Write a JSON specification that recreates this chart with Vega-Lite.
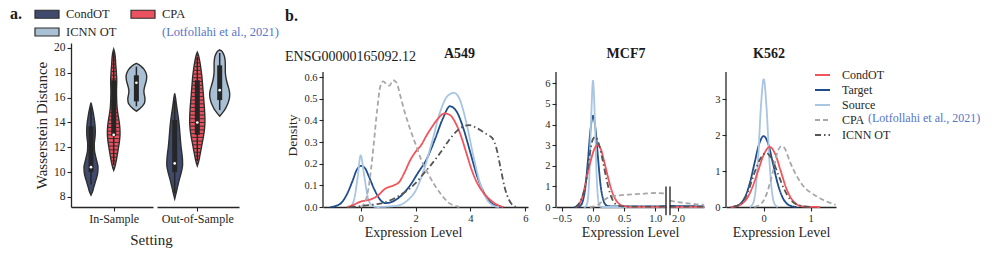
{
"$schema": "https://vega.github.io/schema/vega-lite/v6.json",
"padding": {"left": 10, "top": 5, "right": 5, "bottom": 5},
"config": {
 "view": {"stroke": null},
 "font": "Liberation Serif",
 "style": {"guide-label": {"font": "Liberation Serif"}, "guide-title": {"font": "Liberation Serif"}, "group-title": {"font": "Liberation Serif"}, "group-subtitle": {"font": "Liberation Serif"}},
 "axis": {"labelFont": "Liberation Serif", "titleFont": "Liberation Serif", "labelColor": "#262626", "titleColor": "#262626", "domainColor": "#262626", "tickColor": "#262626", "domainWidth": 1.3, "tickWidth": 1.1, "tickSize": 4, "labelFontSize": 10.5, "titleFontSize": 14, "titleFontWeight": "normal", "grid": false, "labelPadding": 2, "labelOverlap": false, "labelBound": false, "labelFlush": false, "tickCount": 50},
 "legend": {"labelFont": "Liberation Serif", "labelColor": "#262626", "padding": 0},
 "title": {"font": "Liberation Serif", "color": "#1a1a1a", "fontSize": 14, "subtitleFont": "Liberation Serif", "subtitleColor": "#1a1a1a"}
},
"datasets": {
 "violin": [
  {"setting":"In-Sample","method":"CondOT","value":15.6,"halfwidth":0},{"setting":"In-Sample","method":"CondOT","value":15.2,"halfwidth":1.2},{"setting":"In-Sample","method":"CondOT","value":14.8,"halfwidth":2.2},{"setting":"In-Sample","method":"CondOT","value":14.3,"halfwidth":3.2},{"setting":"In-Sample","method":"CondOT","value":13.8,"halfwidth":4},{"setting":"In-Sample","method":"CondOT","value":13.3,"halfwidth":4.3},{"setting":"In-Sample","method":"CondOT","value":12.8,"halfwidth":4},{"setting":"In-Sample","method":"CondOT","value":12.3,"halfwidth":3.3},{"setting":"In-Sample","method":"CondOT","value":11.8,"halfwidth":3.4},{"setting":"In-Sample","method":"CondOT","value":11.3,"halfwidth":4.5},{"setting":"In-Sample","method":"CondOT","value":10.8,"halfwidth":6},{"setting":"In-Sample","method":"CondOT","value":10.4,"halfwidth":7},{"setting":"In-Sample","method":"CondOT","value":10.0,"halfwidth":6.8},{"setting":"In-Sample","method":"CondOT","value":9.6,"halfwidth":5.8},{"setting":"In-Sample","method":"CondOT","value":9.2,"halfwidth":4.3},{"setting":"In-Sample","method":"CondOT","value":8.8,"halfwidth":2.8},{"setting":"In-Sample","method":"CondOT","value":8.4,"halfwidth":1.4},{"setting":"In-Sample","method":"CondOT","value":8.15,"halfwidth":0},
  {"setting":"In-Sample","method":"CPA","value":19.9,"halfwidth":0},{"setting":"In-Sample","method":"CPA","value":19.6,"halfwidth":1.0},{"setting":"In-Sample","method":"CPA","value":19.3,"halfwidth":1.5},{"setting":"In-Sample","method":"CPA","value":19.0,"halfwidth":1.8},{"setting":"In-Sample","method":"CPA","value":18.7,"halfwidth":2.0},{"setting":"In-Sample","method":"CPA","value":18.4,"halfwidth":2.3},{"setting":"In-Sample","method":"CPA","value":18.1,"halfwidth":2.6},{"setting":"In-Sample","method":"CPA","value":17.8,"halfwidth":2.8},{"setting":"In-Sample","method":"CPA","value":17.5,"halfwidth":3.0},{"setting":"In-Sample","method":"CPA","value":17.2,"halfwidth":3.0},{"setting":"In-Sample","method":"CPA","value":16.9,"halfwidth":2.9},{"setting":"In-Sample","method":"CPA","value":16.6,"halfwidth":2.8},{"setting":"In-Sample","method":"CPA","value":16.3,"halfwidth":2.8},{"setting":"In-Sample","method":"CPA","value":16.0,"halfwidth":2.9},{"setting":"In-Sample","method":"CPA","value":15.7,"halfwidth":3.0},{"setting":"In-Sample","method":"CPA","value":15.4,"halfwidth":3.2},{"setting":"In-Sample","method":"CPA","value":15.1,"halfwidth":3.5},{"setting":"In-Sample","method":"CPA","value":14.8,"halfwidth":4.0},{"setting":"In-Sample","method":"CPA","value":14.5,"halfwidth":4.6},{"setting":"In-Sample","method":"CPA","value":14.2,"halfwidth":5.2},{"setting":"In-Sample","method":"CPA","value":13.9,"halfwidth":5.7},{"setting":"In-Sample","method":"CPA","value":13.6,"halfwidth":6.1},{"setting":"In-Sample","method":"CPA","value":13.3,"halfwidth":6.3},{"setting":"In-Sample","method":"CPA","value":13.0,"halfwidth":6.3},{"setting":"In-Sample","method":"CPA","value":12.7,"halfwidth":6.0},{"setting":"In-Sample","method":"CPA","value":12.4,"halfwidth":5.6},{"setting":"In-Sample","method":"CPA","value":12.1,"halfwidth":5.0},{"setting":"In-Sample","method":"CPA","value":11.8,"halfwidth":4.4},{"setting":"In-Sample","method":"CPA","value":11.5,"halfwidth":3.8},{"setting":"In-Sample","method":"CPA","value":11.2,"halfwidth":3.2},{"setting":"In-Sample","method":"CPA","value":10.9,"halfwidth":2.5},{"setting":"In-Sample","method":"CPA","value":10.6,"halfwidth":1.7},{"setting":"In-Sample","method":"CPA","value":10.35,"halfwidth":0.9},{"setting":"In-Sample","method":"CPA","value":10.15,"halfwidth":0},
  {"setting":"In-Sample","method":"ICNN OT","value":18.75,"halfwidth":0},{"setting":"In-Sample","method":"ICNN OT","value":18.65,"halfwidth":2.5},{"setting":"In-Sample","method":"ICNN OT","value":18.5,"halfwidth":5},{"setting":"In-Sample","method":"ICNN OT","value":18.3,"halfwidth":7.5},{"setting":"In-Sample","method":"ICNN OT","value":18.0,"halfwidth":9.5},{"setting":"In-Sample","method":"ICNN OT","value":17.7,"halfwidth":10.3},{"setting":"In-Sample","method":"ICNN OT","value":17.4,"halfwidth":10.0},{"setting":"In-Sample","method":"ICNN OT","value":17.1,"halfwidth":9.0},{"setting":"In-Sample","method":"ICNN OT","value":16.8,"halfwidth":8.0},{"setting":"In-Sample","method":"ICNN OT","value":16.5,"halfwidth":7.5},{"setting":"In-Sample","method":"ICNN OT","value":16.2,"halfwidth":8.0},{"setting":"In-Sample","method":"ICNN OT","value":15.9,"halfwidth":8.6},{"setting":"In-Sample","method":"ICNN OT","value":15.6,"halfwidth":8.2},{"setting":"In-Sample","method":"ICNN OT","value":15.4,"halfwidth":6.8},{"setting":"In-Sample","method":"ICNN OT","value":15.2,"halfwidth":4.6},{"setting":"In-Sample","method":"ICNN OT","value":15.05,"halfwidth":2.5},{"setting":"In-Sample","method":"ICNN OT","value":14.9,"halfwidth":0},
  {"setting":"Out-of-Sample","method":"CondOT","value":16.35,"halfwidth":0},{"setting":"Out-of-Sample","method":"CondOT","value":16.0,"halfwidth":0.8},{"setting":"Out-of-Sample","method":"CondOT","value":15.5,"halfwidth":1.6},{"setting":"Out-of-Sample","method":"CondOT","value":15.0,"halfwidth":2.5},{"setting":"Out-of-Sample","method":"CondOT","value":14.5,"halfwidth":3.4},{"setting":"Out-of-Sample","method":"CondOT","value":14.0,"halfwidth":4.2},{"setting":"Out-of-Sample","method":"CondOT","value":13.5,"halfwidth":4.8},{"setting":"Out-of-Sample","method":"CondOT","value":13.0,"halfwidth":5.3},{"setting":"Out-of-Sample","method":"CondOT","value":12.5,"halfwidth":5.8},{"setting":"Out-of-Sample","method":"CondOT","value":12.0,"halfwidth":6.4},{"setting":"Out-of-Sample","method":"CondOT","value":11.5,"halfwidth":7.2},{"setting":"Out-of-Sample","method":"CondOT","value":11.0,"halfwidth":7.8},{"setting":"Out-of-Sample","method":"CondOT","value":10.6,"halfwidth":7.9},{"setting":"Out-of-Sample","method":"CondOT","value":10.2,"halfwidth":7.2},{"setting":"Out-of-Sample","method":"CondOT","value":9.8,"halfwidth":6.0},{"setting":"Out-of-Sample","method":"CondOT","value":9.4,"halfwidth":4.6},{"setting":"Out-of-Sample","method":"CondOT","value":9.0,"halfwidth":3.4},{"setting":"Out-of-Sample","method":"CondOT","value":8.6,"halfwidth":2.2},{"setting":"Out-of-Sample","method":"CondOT","value":8.2,"halfwidth":1.1},{"setting":"Out-of-Sample","method":"CondOT","value":7.85,"halfwidth":0},
  {"setting":"Out-of-Sample","method":"CPA","value":19.65,"halfwidth":0},{"setting":"Out-of-Sample","method":"CPA","value":19.4,"halfwidth":1.2},{"setting":"Out-of-Sample","method":"CPA","value":19.1,"halfwidth":2.0},{"setting":"Out-of-Sample","method":"CPA","value":18.8,"halfwidth":2.7},{"setting":"Out-of-Sample","method":"CPA","value":18.5,"halfwidth":3.3},{"setting":"Out-of-Sample","method":"CPA","value":18.2,"halfwidth":3.8},{"setting":"Out-of-Sample","method":"CPA","value":17.9,"halfwidth":4.3},{"setting":"Out-of-Sample","method":"CPA","value":17.6,"halfwidth":4.7},{"setting":"Out-of-Sample","method":"CPA","value":17.3,"halfwidth":5.0},{"setting":"Out-of-Sample","method":"CPA","value":17.0,"halfwidth":5.3},{"setting":"Out-of-Sample","method":"CPA","value":16.7,"halfwidth":5.6},{"setting":"Out-of-Sample","method":"CPA","value":16.4,"halfwidth":5.9},{"setting":"Out-of-Sample","method":"CPA","value":16.1,"halfwidth":6.2},{"setting":"Out-of-Sample","method":"CPA","value":15.8,"halfwidth":6.5},{"setting":"Out-of-Sample","method":"CPA","value":15.5,"halfwidth":6.8},{"setting":"Out-of-Sample","method":"CPA","value":15.2,"halfwidth":7.1},{"setting":"Out-of-Sample","method":"CPA","value":14.9,"halfwidth":7.3},{"setting":"Out-of-Sample","method":"CPA","value":14.6,"halfwidth":7.5},{"setting":"Out-of-Sample","method":"CPA","value":14.3,"halfwidth":7.6},{"setting":"Out-of-Sample","method":"CPA","value":14.0,"halfwidth":7.6},{"setting":"Out-of-Sample","method":"CPA","value":13.7,"halfwidth":7.4},{"setting":"Out-of-Sample","method":"CPA","value":13.4,"halfwidth":7.1},{"setting":"Out-of-Sample","method":"CPA","value":13.1,"halfwidth":6.6},{"setting":"Out-of-Sample","method":"CPA","value":12.8,"halfwidth":6.0},{"setting":"Out-of-Sample","method":"CPA","value":12.5,"halfwidth":5.3},{"setting":"Out-of-Sample","method":"CPA","value":12.2,"halfwidth":4.6},{"setting":"Out-of-Sample","method":"CPA","value":11.9,"halfwidth":3.9},{"setting":"Out-of-Sample","method":"CPA","value":11.6,"halfwidth":3.2},{"setting":"Out-of-Sample","method":"CPA","value":11.3,"halfwidth":2.5},{"setting":"Out-of-Sample","method":"CPA","value":11.0,"halfwidth":1.8},{"setting":"Out-of-Sample","method":"CPA","value":10.75,"halfwidth":1.0},{"setting":"Out-of-Sample","method":"CPA","value":10.5,"halfwidth":0},
  {"setting":"Out-of-Sample","method":"ICNN OT","value":19.85,"halfwidth":0},{"setting":"Out-of-Sample","method":"ICNN OT","value":19.75,"halfwidth":2.0},{"setting":"Out-of-Sample","method":"ICNN OT","value":19.55,"halfwidth":3.6},{"setting":"Out-of-Sample","method":"ICNN OT","value":19.3,"halfwidth":4.8},{"setting":"Out-of-Sample","method":"ICNN OT","value":19.0,"halfwidth":5.4},{"setting":"Out-of-Sample","method":"ICNN OT","value":18.7,"halfwidth":5.6},{"setting":"Out-of-Sample","method":"ICNN OT","value":18.4,"halfwidth":5.6},{"setting":"Out-of-Sample","method":"ICNN OT","value":18.1,"halfwidth":5.6},{"setting":"Out-of-Sample","method":"ICNN OT","value":17.8,"halfwidth":5.9},{"setting":"Out-of-Sample","method":"ICNN OT","value":17.5,"halfwidth":6.5},{"setting":"Out-of-Sample","method":"ICNN OT","value":17.2,"halfwidth":7.4},{"setting":"Out-of-Sample","method":"ICNN OT","value":16.9,"halfwidth":8.5},{"setting":"Out-of-Sample","method":"ICNN OT","value":16.6,"halfwidth":9.5},{"setting":"Out-of-Sample","method":"ICNN OT","value":16.3,"halfwidth":10.0},{"setting":"Out-of-Sample","method":"ICNN OT","value":16.0,"halfwidth":9.8},{"setting":"Out-of-Sample","method":"ICNN OT","value":15.7,"halfwidth":8.9},{"setting":"Out-of-Sample","method":"ICNN OT","value":15.4,"halfwidth":7.5},{"setting":"Out-of-Sample","method":"ICNN OT","value":15.1,"halfwidth":5.6},{"setting":"Out-of-Sample","method":"ICNN OT","value":14.85,"halfwidth":3.5},{"setting":"Out-of-Sample","method":"ICNN OT","value":14.65,"halfwidth":1.5},{"setting":"Out-of-Sample","method":"ICNN OT","value":14.5,"halfwidth":0}
 ],
 "box": [
  {"setting":"In-Sample","method":"CondOT","q1":10.0,"q3":13.7,"med":10.4,"wlo":9.0,"whi":15.2},
  {"setting":"In-Sample","method":"CPA","q1":12.9,"q3":17.4,"med":13.0,"wlo":10.6,"whi":19.6},
  {"setting":"In-Sample","method":"ICNN OT","q1":15.7,"q3":17.8,"med":17.2,"wlo":15.3,"whi":18.5},
  {"setting":"Out-of-Sample","method":"CondOT","q1":10.0,"q3":14.2,"med":10.7,"wlo":8.3,"whi":15.8},
  {"setting":"Out-of-Sample","method":"CPA","q1":13.0,"q3":17.4,"med":14.0,"wlo":10.9,"whi":19.3},
  {"setting":"Out-of-Sample","method":"ICNN OT","q1":15.8,"q3":18.6,"med":16.6,"wlo":15.0,"whi":19.6}
 ],
 "a549": [
  {"series":"Target","x":-1.1,"y":0},{"series":"Target","x":-0.9,"y":0.005},{"series":"Target","x":-0.7,"y":0.02},{"series":"Target","x":-0.5,"y":0.06},{"series":"Target","x":-0.3,"y":0.12},{"series":"Target","x":-0.15,"y":0.17},{"series":"Target","x":0,"y":0.19},{"series":"Target","x":0.15,"y":0.18},{"series":"Target","x":0.3,"y":0.14},{"series":"Target","x":0.5,"y":0.08},{"series":"Target","x":0.7,"y":0.035},{"series":"Target","x":0.9,"y":0.018},{"series":"Target","x":1.1,"y":0.022},{"series":"Target","x":1.3,"y":0.035},{"series":"Target","x":1.5,"y":0.055},{"series":"Target","x":1.8,"y":0.1},{"series":"Target","x":2.1,"y":0.16},{"series":"Target","x":2.4,"y":0.22},{"series":"Target","x":2.7,"y":0.31},{"series":"Target","x":3.0,"y":0.41},{"series":"Target","x":3.25,"y":0.465},{"series":"Target","x":3.5,"y":0.44},{"series":"Target","x":3.75,"y":0.36},{"series":"Target","x":4.0,"y":0.25},{"series":"Target","x":4.25,"y":0.14},{"series":"Target","x":4.5,"y":0.065},{"series":"Target","x":4.75,"y":0.02},{"series":"Target","x":5.0,"y":0.004},{"series":"Target","x":5.2,"y":0},
  {"series":"Source","x":-0.4,"y":0},{"series":"Source","x":-0.25,"y":0.03},{"series":"Source","x":-0.12,"y":0.13},{"series":"Source","x":0,"y":0.238},{"series":"Source","x":0.12,"y":0.15},{"series":"Source","x":0.25,"y":0.05},{"series":"Source","x":0.4,"y":0.008},{"series":"Source","x":0.6,"y":0},{"series":"Source","x":1.0,"y":0.002},{"series":"Source","x":1.4,"y":0.008},{"series":"Source","x":1.7,"y":0.03},{"series":"Source","x":2.0,"y":0.075},{"series":"Source","x":2.3,"y":0.17},{"series":"Source","x":2.6,"y":0.3},{"series":"Source","x":2.9,"y":0.44},{"series":"Source","x":3.15,"y":0.51},{"series":"Source","x":3.4,"y":0.527},{"series":"Source","x":3.6,"y":0.5},{"series":"Source","x":3.85,"y":0.39},{"series":"Source","x":4.1,"y":0.24},{"series":"Source","x":4.35,"y":0.11},{"series":"Source","x":4.6,"y":0.035},{"series":"Source","x":4.85,"y":0.006},{"series":"Source","x":5.05,"y":0},
  {"series":"CondOT","x":-0.5,"y":0},{"series":"CondOT","x":-0.3,"y":0.008},{"series":"CondOT","x":0,"y":0.025},{"series":"CondOT","x":0.3,"y":0.033},{"series":"CondOT","x":0.6,"y":0.05},{"series":"CondOT","x":0.9,"y":0.085},{"series":"CondOT","x":1.2,"y":0.1},{"series":"CondOT","x":1.4,"y":0.115},{"series":"CondOT","x":1.6,"y":0.16},{"series":"CondOT","x":1.8,"y":0.215},{"series":"CondOT","x":2.0,"y":0.255},{"series":"CondOT","x":2.2,"y":0.285},{"series":"CondOT","x":2.4,"y":0.33},{"series":"CondOT","x":2.6,"y":0.37},{"series":"CondOT","x":2.8,"y":0.405},{"series":"CondOT","x":3.05,"y":0.432},{"series":"CondOT","x":3.25,"y":0.425},{"series":"CondOT","x":3.45,"y":0.39},{"series":"CondOT","x":3.65,"y":0.33},{"series":"CondOT","x":3.85,"y":0.25},{"series":"CondOT","x":4.05,"y":0.17},{"series":"CondOT","x":4.25,"y":0.11},{"series":"CondOT","x":4.45,"y":0.07},{"series":"CondOT","x":4.7,"y":0.035},{"series":"CondOT","x":4.95,"y":0.012},{"series":"CondOT","x":5.2,"y":0},
  {"series":"CPA","x":0,"y":0},{"series":"CPA","x":0.15,"y":0.02},{"series":"CPA","x":0.3,"y":0.1},{"series":"CPA","x":0.45,"y":0.26},{"series":"CPA","x":0.6,"y":0.45},{"series":"CPA","x":0.72,"y":0.56},{"series":"CPA","x":0.82,"y":0.58},{"series":"CPA","x":0.95,"y":0.565},{"series":"CPA","x":1.05,"y":0.56},{"series":"CPA","x":1.18,"y":0.585},{"series":"CPA","x":1.3,"y":0.575},{"series":"CPA","x":1.45,"y":0.51},{"series":"CPA","x":1.6,"y":0.44},{"series":"CPA","x":1.8,"y":0.36},{"series":"CPA","x":2.0,"y":0.29},{"series":"CPA","x":2.2,"y":0.22},{"series":"CPA","x":2.45,"y":0.155},{"series":"CPA","x":2.7,"y":0.1},{"series":"CPA","x":2.95,"y":0.055},{"series":"CPA","x":3.2,"y":0.02},{"series":"CPA","x":3.45,"y":0.005},{"series":"CPA","x":3.6,"y":0},
  {"series":"ICNN OT","x":-0.4,"y":0},{"series":"ICNN OT","x":0,"y":0.004},{"series":"ICNN OT","x":0.5,"y":0.012},{"series":"ICNN OT","x":0.9,"y":0.022},{"series":"ICNN OT","x":1.3,"y":0.045},{"series":"ICNN OT","x":1.6,"y":0.068},{"series":"ICNN OT","x":2.0,"y":0.11},{"series":"ICNN OT","x":2.3,"y":0.155},{"series":"ICNN OT","x":2.6,"y":0.2},{"series":"ICNN OT","x":2.9,"y":0.25},{"series":"ICNN OT","x":3.2,"y":0.305},{"series":"ICNN OT","x":3.5,"y":0.35},{"series":"ICNN OT","x":3.75,"y":0.372},{"series":"ICNN OT","x":3.95,"y":0.378},{"series":"ICNN OT","x":4.15,"y":0.37},{"series":"ICNN OT","x":4.4,"y":0.352},{"series":"ICNN OT","x":4.6,"y":0.335},{"series":"ICNN OT","x":4.8,"y":0.318},{"series":"ICNN OT","x":4.95,"y":0.27},{"series":"ICNN OT","x":5.1,"y":0.18},{"series":"ICNN OT","x":5.25,"y":0.09},{"series":"ICNN OT","x":5.4,"y":0.035},{"series":"ICNN OT","x":5.55,"y":0.008},{"series":"ICNN OT","x":5.7,"y":0}
 ],
 "mcf7": [
  {"series":"Target","x":-0.3,"y":0},{"series":"Target","x":-0.25,"y":0.01},{"series":"Target","x":-0.2,"y":0.075},{"series":"Target","x":-0.16,"y":0.33},{"series":"Target","x":-0.12,"y":1.02},{"series":"Target","x":-0.08,"y":2.31},{"series":"Target","x":-0.04,"y":3.76},{"series":"Target","x":0,"y":4.43},{"series":"Target","x":0.04,"y":3.8},{"series":"Target","x":0.08,"y":2.4},{"series":"Target","x":0.12,"y":1.1},{"series":"Target","x":0.16,"y":0.4},{"series":"Target","x":0.2,"y":0.12},{"series":"Target","x":0.25,"y":0.04},{"series":"Target","x":0.35,"y":0.03},{"series":"Target","x":0.6,"y":0.03},{"series":"Target","x":0.9,"y":0.03},{"series":"Target","x":1.17,"y":0.04},{"series":"Target","x":1.87,"y":0.05},{"series":"Target","x":2.42,"y":0.03},
  {"series":"Source","x":-0.15,"y":0},{"series":"Source","x":-0.12,"y":0.017},{"series":"Source","x":-0.09,"y":0.22},{"series":"Source","x":-0.06,"y":1.41},{"series":"Source","x":-0.03,"y":4.25},{"series":"Source","x":0,"y":6.13},{"series":"Source","x":0.03,"y":4.25},{"series":"Source","x":0.06,"y":1.41},{"series":"Source","x":0.09,"y":0.22},{"series":"Source","x":0.12,"y":0.017},{"series":"Source","x":0.15,"y":0},{"series":"Source","x":0.6,"y":0},{"series":"Source","x":1.17,"y":0},{"series":"Source","x":1.87,"y":0},{"series":"Source","x":2.42,"y":0},
  {"series":"CondOT","x":-0.28,"y":0},{"series":"CondOT","x":-0.22,"y":0.15},{"series":"CondOT","x":-0.16,"y":0.6},{"series":"CondOT","x":-0.1,"y":1.45},{"series":"CondOT","x":-0.04,"y":2.2},{"series":"CondOT","x":0.02,"y":2.8},{"series":"CondOT","x":0.07,"y":3.0},{"series":"CondOT","x":0.12,"y":2.85},{"series":"CondOT","x":0.18,"y":2.2},{"series":"CondOT","x":0.24,"y":1.45},{"series":"CondOT","x":0.3,"y":0.8},{"series":"CondOT","x":0.36,"y":0.38},{"series":"CondOT","x":0.42,"y":0.15},{"series":"CondOT","x":0.5,"y":0.04},{"series":"CondOT","x":0.6,"y":0.01},{"series":"CondOT","x":1.17,"y":0.01},{"series":"CondOT","x":1.87,"y":0.01},{"series":"CondOT","x":2.42,"y":0.01},
  {"series":"CPA","x":-0.05,"y":0},{"series":"CPA","x":0.05,"y":0.05},{"series":"CPA","x":0.1,"y":0.15},{"series":"CPA","x":0.16,"y":0.3},{"series":"CPA","x":0.22,"y":0.42},{"series":"CPA","x":0.32,"y":0.52},{"series":"CPA","x":0.5,"y":0.59},{"series":"CPA","x":0.8,"y":0.64},{"series":"CPA","x":1.0,"y":0.68},{"series":"CPA","x":1.17,"y":0.66},{"series":"CPA","x":1.87,"y":0.31},{"series":"CPA","x":2.0,"y":0.24},{"series":"CPA","x":2.15,"y":0.18},{"series":"CPA","x":2.3,"y":0.13},{"series":"CPA","x":2.42,"y":0.1},
  {"series":"ICNN OT","x":-0.28,"y":0},{"series":"ICNN OT","x":-0.2,"y":0.3},{"series":"ICNN OT","x":-0.12,"y":1.1},{"series":"ICNN OT","x":-0.06,"y":2.4},{"series":"ICNN OT","x":0,"y":3.3},{"series":"ICNN OT","x":0.04,"y":3.4},{"series":"ICNN OT","x":0.1,"y":3.0},{"series":"ICNN OT","x":0.16,"y":2.2},{"series":"ICNN OT","x":0.22,"y":1.3},{"series":"ICNN OT","x":0.28,"y":0.6},{"series":"ICNN OT","x":0.34,"y":0.22},{"series":"ICNN OT","x":0.42,"y":0.06},{"series":"ICNN OT","x":0.55,"y":0.02},{"series":"ICNN OT","x":1.17,"y":0.02},{"series":"ICNN OT","x":1.87,"y":0.02},{"series":"ICNN OT","x":2.42,"y":0.02}
 ],
 "k562": [
  {"series":"Target","x":-0.7,"y":0},{"series":"Target","x":-0.6,"y":0.022},{"series":"Target","x":-0.5,"y":0.086},{"series":"Target","x":-0.4,"y":0.27},{"series":"Target","x":-0.3,"y":0.64},{"series":"Target","x":-0.2,"y":1.19},{"series":"Target","x":-0.1,"y":1.74},{"series":"Target","x":0,"y":1.97},{"series":"Target","x":0.1,"y":1.74},{"series":"Target","x":0.2,"y":1.19},{"series":"Target","x":0.3,"y":0.64},{"series":"Target","x":0.4,"y":0.27},{"series":"Target","x":0.5,"y":0.086},{"series":"Target","x":0.6,"y":0.022},{"series":"Target","x":0.7,"y":0},
  {"series":"Source","x":-0.3,"y":0},{"series":"Source","x":-0.24,"y":0.066},{"series":"Source","x":-0.18,"y":0.38},{"series":"Source","x":-0.12,"y":1.31},{"series":"Source","x":-0.06,"y":2.77},{"series":"Source","x":0,"y":3.55},{"series":"Source","x":0.06,"y":2.77},{"series":"Source","x":0.12,"y":1.31},{"series":"Source","x":0.18,"y":0.38},{"series":"Source","x":0.24,"y":0.066},{"series":"Source","x":0.3,"y":0},
  {"series":"CondOT","x":-0.7,"y":0},{"series":"CondOT","x":-0.6,"y":0.015},{"series":"CondOT","x":-0.48,"y":0.075},{"series":"CondOT","x":-0.36,"y":0.23},{"series":"CondOT","x":-0.24,"y":0.55},{"series":"CondOT","x":-0.12,"y":1.0},{"series":"CondOT","x":0,"y":1.45},{"series":"CondOT","x":0.13,"y":1.67},{"series":"CondOT","x":0.245,"y":1.47},{"series":"CondOT","x":0.36,"y":1.01},{"series":"CondOT","x":0.475,"y":0.54},{"series":"CondOT","x":0.59,"y":0.226},{"series":"CondOT","x":0.705,"y":0.073},{"series":"CondOT","x":0.82,"y":0.019},{"series":"CondOT","x":1.0,"y":0.004},{"series":"CondOT","x":1.2,"y":0},
  {"series":"CPA","x":-0.2,"y":0},{"series":"CPA","x":-0.1,"y":0.05},{"series":"CPA","x":0,"y":0.18},{"series":"CPA","x":0.06,"y":0.35},{"series":"CPA","x":0.13,"y":0.65},{"series":"CPA","x":0.2,"y":1.0},{"series":"CPA","x":0.3,"y":1.55},{"series":"CPA","x":0.38,"y":1.69},{"series":"CPA","x":0.46,"y":1.6},{"series":"CPA","x":0.55,"y":1.28},{"series":"CPA","x":0.64,"y":1.02},{"series":"CPA","x":0.73,"y":0.8},{"series":"CPA","x":0.82,"y":0.62},{"series":"CPA","x":0.91,"y":0.49},{"series":"CPA","x":1.0,"y":0.4},{"series":"CPA","x":1.12,"y":0.3},{"series":"CPA","x":1.26,"y":0.2},{"series":"CPA","x":1.4,"y":0.12},{"series":"CPA","x":1.53,"y":0.06},
  {"series":"ICNN OT","x":-0.65,"y":0},{"series":"ICNN OT","x":-0.6,"y":0.02},{"series":"ICNN OT","x":-0.47,"y":0.1},{"series":"ICNN OT","x":-0.34,"y":0.4},{"series":"ICNN OT","x":-0.21,"y":0.9},{"series":"ICNN OT","x":-0.08,"y":1.32},{"series":"ICNN OT","x":0.05,"y":1.5},{"series":"ICNN OT","x":0.18,"y":1.32},{"series":"ICNN OT","x":0.31,"y":0.9},{"series":"ICNN OT","x":0.44,"y":0.48},{"series":"ICNN OT","x":0.57,"y":0.2},{"series":"ICNN OT","x":0.7,"y":0.07},{"series":"ICNN OT","x":0.85,"y":0.02},{"series":"ICNN OT","x":1.0,"y":0}
 ]
},
"bounds": "flush",
"spacing": 4,
"hconcat": [
 {
  "width": 82, "height": 164,
  "title": {"text": "a.", "anchor": "start", "frame": "group", "fontSize": 16, "fontWeight": "bold", "dx": -61, "offset": 20},
  "layer": [
   {"data": {"name": "violin"},
    "transform": [{"filter": "datum.setting === 'In-Sample'"}, {"calculate": "datum.method === 'CondOT' ? -22.7 : (datum.method === 'CPA' ? 0 : 22.7)", "as": "c"}, {"calculate": "datum.c - datum.halfwidth", "as": "lo"}, {"calculate": "datum.c + datum.halfwidth", "as": "hi"}],
    "mark": {"type": "area", "orient": "horizontal", "interpolate": "monotone", "stroke": "#2e2e2e", "strokeWidth": 1.4, "fillOpacity": 1},
    "encoding": {
     "y": {"field": "value", "type": "quantitative", "scale": {"domain": [7.19, 20.4], "nice": false, "zero": false}, "axis": {"values": [8, 10, 12, 14, 16, 18, 20], "format": "d", "tickCount": 50, "labelOverlap": false, "title": "Wasserstein Distance", "titleFontSize": 15, "labelFontSize": 11.5}},
     "x": {"field": "lo", "type": "quantitative", "scale": {"domain": [-42.7, 39.3], "nice": false, "zero": false}, "axis": {"values": [0], "labelExpr": "'In-Sample'", "labelFontSize": 12, "title": "Setting", "titleFontSize": 15, "titleX": 80, "titleY": 37, "titleBaseline": "alphabetic"}},
     "x2": {"field": "hi"},
     "fill": {"field": "method", "type": "nominal", "scale": {"domain": ["CondOT", "ICNN OT", "CPA", "cite"], "range": ["#3f4a6d", "#a8bfd4", "#e9525e", "#ffffff"]},
      "legend": {"orient": "none", "legendX": -33, "legendY": -38, "padding": 0, "title": null, "columns": 2, "columnPadding": 11, "rowPadding": 2, "symbolType": "M-1.5,-0.5H1.5V0.5H-1.5Z", "symbolSize": 256, "symbolStrokeColor": "#2e2e2e", "symbolStrokeWidth": 1.2, "labelFont": "Liberation Serif", "labelFontSize": 12.5, "labelOffset": 10, "labelExpr": "datum.label === 'cite' ? '(Lotfollahi et al., 2021)' : datum.label", "symbolOpacity": {"expr": "datum.value === 'cite' ? 0 : 1"}, "labelColor": {"expr": "datum.value === 'cite' ? '#5575c9' : '#262626'"}}}
    }},
   {"data": {"name": "violin"},
    "transform": [{"filter": "datum.setting === 'In-Sample' && datum.method === 'CPA'"}, {"calculate": "datum.halfwidth > 0.6 ? -datum.halfwidth + 0.5 : 0", "as": "lo"}, {"calculate": "datum.halfwidth > 0.6 ? datum.halfwidth - 0.5 : 0", "as": "hi"}],
    "mark": {"type": "rule", "stroke": "#3a2a2c", "strokeWidth": 1},
    "encoding": {"y": {"field": "value", "type": "quantitative"}, "x": {"field": "lo", "type": "quantitative"}, "x2": {"field": "hi"}}},
   {"data": {"name": "box"},
    "transform": [{"filter": "datum.setting === 'In-Sample'"}, {"calculate": "datum.method === 'CondOT' ? -22.7 : (datum.method === 'CPA' ? 0 : 22.7)", "as": "c"}],
    "layer": [
     {"mark": {"type": "rule", "stroke": "#262626", "strokeWidth": 1.5}, "encoding": {"x": {"field": "c", "type": "quantitative"}, "y": {"field": "wlo", "type": "quantitative"}, "y2": {"field": "whi"}}},
     {"mark": {"type": "rule", "stroke": "#262626", "strokeWidth": 5}, "encoding": {"x": {"field": "c", "type": "quantitative"}, "y": {"field": "q1", "type": "quantitative"}, "y2": {"field": "q3"}}},
     {"mark": {"type": "point", "filled": true, "fill": "#ffffff", "opacity": 1, "size": 7, "strokeWidth": 0}, "encoding": {"x": {"field": "c", "type": "quantitative"}, "y": {"field": "med", "type": "quantitative"}}}
    ]}
  ]
 },
 {
  "width": 82, "height": 164,
  "layer": [
   {"data": {"name": "violin"},
    "transform": [{"filter": "datum.setting === 'Out-of-Sample'"}, {"calculate": "datum.method === 'CondOT' ? -22.6 : (datum.method === 'CPA' ? 0 : 22.4)", "as": "c"}, {"calculate": "datum.c - datum.halfwidth", "as": "lo"}, {"calculate": "datum.c + datum.halfwidth", "as": "hi"}],
    "mark": {"type": "area", "orient": "horizontal", "interpolate": "monotone", "stroke": "#2e2e2e", "strokeWidth": 1.4, "fillOpacity": 1},
    "encoding": {
     "y": {"field": "value", "type": "quantitative", "scale": {"domain": [7.19, 20.4], "nice": false, "zero": false}, "axis": null},
     "x": {"field": "lo", "type": "quantitative", "scale": {"domain": [-40.3, 41.7], "nice": false, "zero": false}, "axis": {"values": [0], "labelExpr": "'Out-of-Sample'", "labelFontSize": 12, "title": null}},
     "x2": {"field": "hi"},
     "fill": {"field": "method", "type": "nominal", "scale": {"domain": ["CondOT", "ICNN OT", "CPA", "cite"], "range": ["#3f4a6d", "#a8bfd4", "#e9525e", "#ffffff"]}}
    }},
   {"data": {"name": "violin"},
    "transform": [{"filter": "datum.setting === 'Out-of-Sample' && datum.method === 'CPA'"}, {"calculate": "datum.halfwidth > 0.6 ? -datum.halfwidth + 0.5 : 0", "as": "lo"}, {"calculate": "datum.halfwidth > 0.6 ? datum.halfwidth - 0.5 : 0", "as": "hi"}],
    "mark": {"type": "rule", "stroke": "#3a2a2c", "strokeWidth": 1},
    "encoding": {"y": {"field": "value", "type": "quantitative"}, "x": {"field": "lo", "type": "quantitative"}, "x2": {"field": "hi"}}},
   {"data": {"name": "box"},
    "transform": [{"filter": "datum.setting === 'Out-of-Sample'"}, {"calculate": "datum.method === 'CondOT' ? -22.6 : (datum.method === 'CPA' ? 0 : 22.4)", "as": "c"}],
    "layer": [
     {"mark": {"type": "rule", "stroke": "#262626", "strokeWidth": 1.5}, "encoding": {"x": {"field": "c", "type": "quantitative"}, "y": {"field": "wlo", "type": "quantitative"}, "y2": {"field": "whi"}}},
     {"mark": {"type": "rule", "stroke": "#262626", "strokeWidth": 5}, "encoding": {"x": {"field": "c", "type": "quantitative"}, "y": {"field": "q1", "type": "quantitative"}, "y2": {"field": "q3"}}},
     {"mark": {"type": "point", "filled": true, "fill": "#ffffff", "opacity": 1, "size": 7, "strokeWidth": 0}, "encoding": {"x": {"field": "c", "type": "quantitative"}, "y": {"field": "med", "type": "quantitative"}}}
    ]}
  ]
 },
 {
  "width": 76, "height": 164,
  "title": {"text": "b.", "subtitle": "ENSG00000165092.12", "anchor": "start", "frame": "group", "fontSize": 16, "fontWeight": "bold", "subtitleFontSize": 14, "subtitlePadding": 26, "dx": 42, "offset": -21},
  "data": {"values": []},
  "mark": "point"
 },
 {
  "width": 205, "height": 164,
  "title": {"text": "A549", "fontWeight": "bold", "dx": 34, "offset": -18},
  "layer": [
   {"data": {"name": "a549"},
    "mark": {"type": "line", "interpolate": "monotone", "strokeWidth": 1.8},
    "encoding": {
     "x": {"field": "x", "type": "quantitative", "scale": {"domain": [-1.376, 6.1], "nice": false, "zero": false}, "axis": {"values": [0, 2, 4, 6], "format": "d", "tickCount": 50, "labelOverlap": false, "title": "Expression Level", "titleX": 90, "titleY": 29, "titleBaseline": "alphabetic"}},
     "y": {"field": "y", "type": "quantitative", "scale": {"domain": [0, 0.757], "nice": false}, "axis": {"values": [0, 0.1, 0.2, 0.3, 0.4, 0.5, 0.6], "tickCount": 50, "labelOverlap": false, "format": ".1f", "title": "Density", "titleFontSize": 13.5, "domain": false, "titleY": 92}},
     "stroke": {"field": "series", "type": "nominal", "scale": {"domain": ["CondOT", "Target", "Source", "CPA", "ICNN OT"], "range": ["#f2545b", "#1f4e8c", "#a8c5e2", "#a8a8a8", "#555555"]},
      "legend": {"orient": "none", "legendX": 743, "legendY": 23.5, "padding": 0, "title": null, "symbolType": "stroke", "symbolSize": 225, "symbolStrokeWidth": 2, "labelFont": "Liberation Serif", "labelFontSize": 12, "labelOffset": 11, "rowPadding": 0}},
     "strokeDash": {"field": "series", "type": "nominal", "scale": {"domain": ["CondOT", "Target", "Source", "CPA", "ICNN OT"], "range": [[1, 0], [1, 0], [1, 0], [5, 3], [6, 3, 1.5, 3]]},
      "legend": {"orient": "none", "legendX": 743, "legendY": 23.5, "padding": 0, "title": null, "symbolType": "stroke", "symbolSize": 225, "symbolStrokeWidth": 2, "labelFont": "Liberation Serif", "labelFontSize": 12, "labelOffset": 11, "rowPadding": 0}}
    }},
   {"data": {"values": [{"part": "spine"}]},
    "mark": {"type": "rule", "stroke": "#262626", "strokeWidth": 1.3},
    "encoding": {"x": {"datum": -1.376}, "y": {"datum": 0}, "y2": {"datum": 0.623}}}
  ]
 },
 {
  "width": 20, "height": 164,
  "data": {"values": []},
  "mark": "point"
 },
 {
  "width": 110, "height": 164,
  "title": {"text": "MCF7", "fontWeight": "bold", "dx": 15, "offset": -18},
  "layer": [
   {"data": {"name": "mcf7"},
    "transform": [{"filter": "datum.x <= 1.2"}],
    "mark": {"type": "line", "interpolate": "monotone", "strokeWidth": 1.8},
    "encoding": {
     "x": {"field": "x", "type": "quantitative", "scale": {"domain": [-0.594, 1.172], "nice": false, "zero": false}, "axis": {"values": [-0.5, 0, 0.5, 1], "tickCount": 50, "labelOverlap": false, "format": ".1f", "title": "Expression Level", "titleX": 74, "titleY": 29, "titleBaseline": "alphabetic"}},
     "y": {"field": "y", "type": "quantitative", "scale": {"domain": [0, 7.96], "nice": false}, "axis": {"values": [0, 1, 2, 3, 4, 5, 6], "format": "d", "tickCount": 50, "labelOverlap": false, "title": null, "domain": false}},
     "stroke": {"field": "series", "type": "nominal", "scale": {"domain": ["CondOT", "Target", "Source", "CPA", "ICNN OT"], "range": ["#f2545b", "#1f4e8c", "#a8c5e2", "#a8a8a8", "#555555"]}},
     "strokeDash": {"field": "series", "type": "nominal", "scale": {"domain": ["CondOT", "Target", "Source", "CPA", "ICNN OT"], "range": [[1, 0], [1, 0], [1, 0], [5, 3], [6, 3, 1.5, 3]]}}
    }},
   {"data": {"values": [{"part": "spine"}]},
    "mark": {"type": "rule", "stroke": "#262626", "strokeWidth": 1.3},
    "encoding": {"x": {"datum": -0.594}, "y": {"datum": 0}, "y2": {"datum": 6.55}}},
   {"data": {"values": [{"part": "axis break"}]},
    "mark": {"type": "rule", "stroke": "#1a1a1a", "strokeWidth": 1.3},
    "encoding": {"x": {"datum": 1.172}, "y": {"datum": -0.4}, "y2": {"datum": 1.0}}}
  ]
 },
 {
  "width": 34, "height": 164,
  "layer": [
   {"data": {"name": "mcf7"},
    "transform": [{"filter": "datum.x >= 1.8"}],
    "mark": {"type": "line", "interpolate": "monotone", "strokeWidth": 1.8},
    "encoding": {
     "x": {"field": "x", "type": "quantitative", "scale": {"domain": [1.872, 2.417], "nice": false, "zero": false}, "axis": {"values": [2], "tickCount": 50, "format": ".1f", "title": null}},
     "y": {"field": "y", "type": "quantitative", "scale": {"domain": [0, 7.96], "nice": false}, "axis": null},
     "stroke": {"field": "series", "type": "nominal", "scale": {"domain": ["CondOT", "Target", "Source", "CPA", "ICNN OT"], "range": ["#f2545b", "#1f4e8c", "#a8c5e2", "#a8a8a8", "#555555"]}},
     "strokeDash": {"field": "series", "type": "nominal", "scale": {"domain": ["CondOT", "Target", "Source", "CPA", "ICNN OT"], "range": [[1, 0], [1, 0], [1, 0], [5, 3], [6, 3, 1.5, 3]]}}
    }},
   {"data": {"values": [{"part": "axis break"}]},
    "mark": {"type": "rule", "stroke": "#1a1a1a", "strokeWidth": 1.3},
    "encoding": {"x": {"datum": 1.872}, "y": {"datum": -0.4}, "y2": {"datum": 1.0}}}
  ]
 },
 {
  "width": 14, "height": 164,
  "data": {"values": []},
  "mark": "point"
 },
 {
  "width": 110, "height": 164,
  "title": {"text": "K562", "fontWeight": "bold", "dx": -12, "offset": -18},
  "layer": [
   {"data": {"name": "k562"},
    "mark": {"type": "line", "interpolate": "monotone", "strokeWidth": 1.8},
    "encoding": {
     "x": {"field": "x", "type": "quantitative", "scale": {"domain": [-0.802, 1.538], "nice": false, "zero": false}, "axis": {"values": [0, 1], "format": "d", "tickCount": 50, "title": "Expression Level", "titleY": 29, "titleBaseline": "alphabetic"}},
     "y": {"field": "y", "type": "quantitative", "scale": {"domain": [0, 4.556], "nice": false}, "axis": {"values": [0, 1, 2, 3], "format": "d", "tickCount": 50, "labelOverlap": false, "title": null, "domain": false}},
     "stroke": {"field": "series", "type": "nominal", "scale": {"domain": ["CondOT", "Target", "Source", "CPA", "ICNN OT"], "range": ["#f2545b", "#1f4e8c", "#a8c5e2", "#a8a8a8", "#555555"]}},
     "strokeDash": {"field": "series", "type": "nominal", "scale": {"domain": ["CondOT", "Target", "Source", "CPA", "ICNN OT"], "range": [[1, 0], [1, 0], [1, 0], [5, 3], [6, 3, 1.5, 3]]}}
    }},
   {"data": {"values": [{"part": "spine"}]},
    "mark": {"type": "rule", "stroke": "#262626", "strokeWidth": 1.3},
    "encoding": {"x": {"datum": -0.802}, "y": {"datum": 0}, "y2": {"datum": 3.75}}},
   {"data": {"values": [{"note": "citation"}]},
    "mark": {"type": "point", "opacity": 0},
    "encoding": {"shape": {"datum": "(Lotfollahi et al., 2021)", "legend": {"orient": "none", "legendX": 785, "legendY": 69, "padding": 0, "title": null, "symbolOpacity": 0, "symbolSize": 1, "labelOffset": 0, "labelFont": "Liberation Serif", "labelFontSize": 12, "labelColor": "#5575c9", "labelLimit": 300}}}}
  ]
 }
]
}
